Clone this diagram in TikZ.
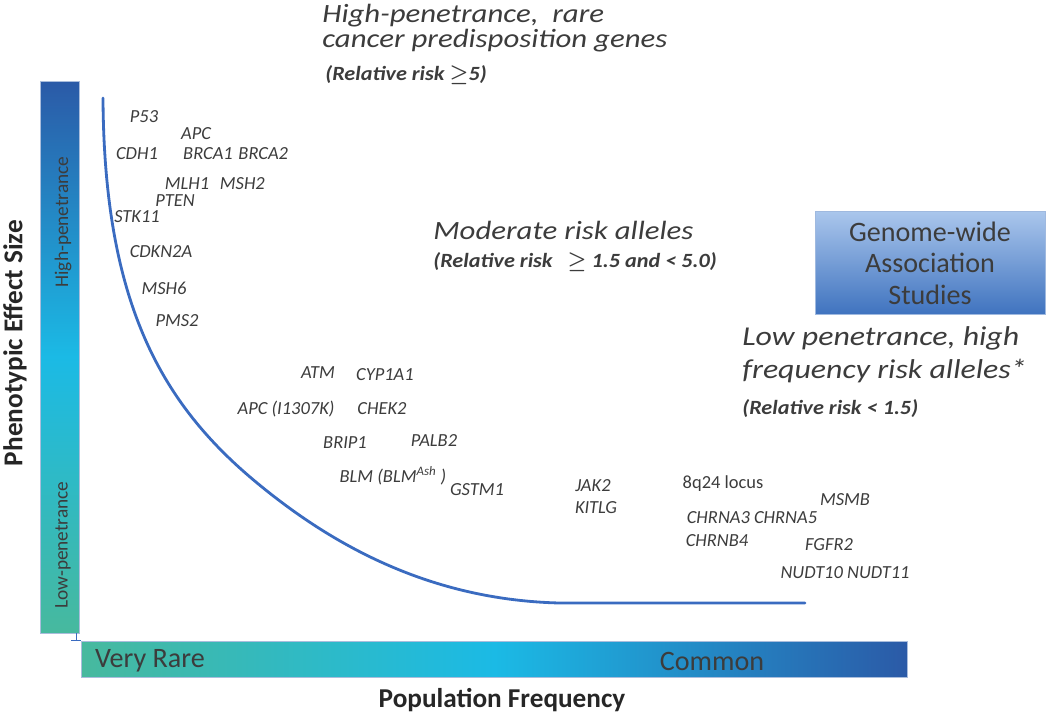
\documentclass[tikz,border=0pt]{standalone}
\usepackage{fontspec}
\setmainfont{Carlito}
\newfontfamily\headfont[FakeStretch=1.17]{Carlito}
\newfontfamily\riskfont[FakeStretch=1.1]{Carlito}
\usetikzlibrary{
    positioning
}
\definecolor{curveblue}{HTML}{3A6BC0}
\definecolor{textgray}{HTML}{3C3C3C}
\definecolor{barblue}{HTML}{2B5AA7}
\definecolor{barcyan}{HTML}{1BBAE5}
\definecolor{barteal}{HTML}{47B99E}
\definecolor{boxtop}{HTML}{AAC6EC}
\definecolor{boxbottom}{HTML}{3F73BF}
\def\gsep{0.1cm}
\tikzset{
    gene/.style = {
        font = \fontsize{10.5}{12}\selectfont\itshape,
        text = textgray,
        inner sep = 0pt,
    },
    heading/.style = {
        font = \headfont\fontsize{15}{14.2}\selectfont\itshape,
        text = textgray,
        align = left,
        anchor = north west,
        inner sep = 0pt,
    },
    risk/.style = {
        font = \riskfont\fontsize{11.5}{13}\selectfont\bfseries\itshape\boldmath,
        text = textgray,
        anchor = west,
        inner sep = 0pt,
    },
    bar/.style = {
        draw = barblue!40!white,
        inner sep = 0pt,
    },
    barlabel/.style = {
        font = \fontsize{16}{18}\selectfont,
        text = textgray,
        inner sep = 0pt,
    },
    sidelabel/.style = {
        font = \fontsize{11}{13}\selectfont,
        text = textgray,
        rotate = 90,
        inner sep = 0pt,
    },
    axislabel/.style = {
        font = \fontsize{15.5}{18}\selectfont\bfseries,
        text = black!85,
        inner sep = 0pt,
    },
    gwas/.style = {
        draw = boxbottom!50!white,
        top color = boxtop,
        bottom color = boxbottom,
        align = center,
        font = \fontsize{16}{18}\selectfont,
        text = textgray,
        minimum width = 4.6cm,
        minimum height = 2.06cm,
    },
    curve/.style = {
        draw = curveblue,
        line width = 1.6pt,
        line cap = round,
    },
}

\begin{document}
\begin{tikzpicture}[x=0.02cm, y=-0.02cm]
    \useasboundingbox (0,0) rectangle (1050,718);

    % axes bars
    \node (effectbar) [bar, minimum width=0.78cm, minimum height=11.04cm,
        top color=barblue, bottom color=barteal, middle color=barcyan] at (59.5,357) {};
    \node (freqbar) [bar, minimum width=16.52cm, minimum height=0.72cm,
        left color=barteal, right color=barblue, middle color=barcyan] at (494.5,659) {};
    \draw [curveblue, line width=0.8pt] ([xshift=-0.06cm]effectbar.south east) |- (freqbar.north west);
    \draw [curveblue, line width=0.8pt] ([xshift=-0.2cm]freqbar.north west) -- (freqbar.north west);

    \node (highpen) [sidelabel] at (63,222) {High-penetrance};
    \node (lowpen) [sidelabel] at (63,545) {Low-penetrance};
    \node (veryrare) [barlabel] at (150,661) {Very Rare};
    \node (common) [barlabel] at (712,661) {Common};

    \node (effectsize) [axislabel, rotate=90] at (15,343) {Phenotypic Effect Size};
    \node (popfreq) [axislabel] at (502,700) {Population Frequency};

    % the curve
    \draw [curve] (103,98) .. controls (104,300) and (160,400) .. (250,477)
        .. controls (330,545) and (430,600) .. (560,603) -- (805,603);

    % headings
    \node (highhead) [heading] at (322,4) {High-penetrance,\ \ rare\\cancer predisposition genes};
    \node (highrisk) [risk] at (325,75) {(Relative risk \(\geq\)5)};
    \node (modhead) [heading] at (433,221) {Moderate risk alleles};
    \node (modrisk) [risk] at (433,262) {(Relative risk\ \ \ \(\geq\) 1.5 and < 5.0)};
    \node (lowhead) [heading, font=\headfont\fontsize{15.5}{18.7}\selectfont\itshape] at (742,326) {Low penetrance, high\\frequency risk alleles*};
    \node (lowrisk) [risk] at (742,409) {(Relative risk < 1.5)};

    \node (gwasbox) [gwas] at (930,263) {Genome-wide\\Association\\Studies};

    % high-penetrance genes
    \node (p53) [gene] at (144,117) {P53};
    \node (apc) [gene] at (196,134) {APC};
    \node (cdh1) [gene] at (137,154) {CDH1};
    \node (brca1) [gene] at (208,154) {BRCA1};
    \node (brca2) [gene, right=\gsep of brca1] {BRCA2};
    \node (mlh1) [gene] at (187,184) {MLH1};
    \node (msh2) [gene, right=0.2cm of mlh1] {MSH2};
    \node (pten) [gene] at (175,201) {PTEN};
    \node (stk11) [gene] at (137,217) {STK11};
    \node (cdkn2a) [gene] at (161,252) {CDKN2A};
    \node (msh6) [gene] at (164,288) {MSH6};
    \node (pms2) [gene] at (177,321) {PMS2};

    % moderate-risk genes
    \node (atm) [gene] at (318,373) {ATM};
    \node (cyp1a1) [gene] at (385,375) {CYP1A1};
    \node (apcvar) [gene] at (286,409) {APC (I1307K)};
    \node (chek2) [gene] at (382,409) {CHEK2};
    \node (brip1) [gene] at (345,443) {BRIP1};
    \node (palb2) [gene] at (434,441) {PALB2};
    \node (blm) [gene] at (393,476) {BLM (BLM\textsuperscript{Ash} )};
    \node (gstm1) [gene] at (477,490) {GSTM1};

    % low-penetrance genes
    \node (jak2) [gene] at (593,486) {JAK2};
    \node (kitlg) [gene] at (596,508) {KITLG};
    \node (locus) [gene, font=\fontsize{10.5}{12}\selectfont] at (723,484) {8q24 locus};
    \node (msmb) [gene] at (845,500) {MSMB};
    \node (chrna) [gene] at (752,518) {CHRNA3 CHRNA5};
    \node (chrnb4) [gene] at (717,541) {CHRNB4};
    \node (fgfr2) [gene] at (829,545) {FGFR2};
    \node (nudt) [gene] at (845,573) {NUDT10 NUDT11};
\end{tikzpicture}
\end{document}
